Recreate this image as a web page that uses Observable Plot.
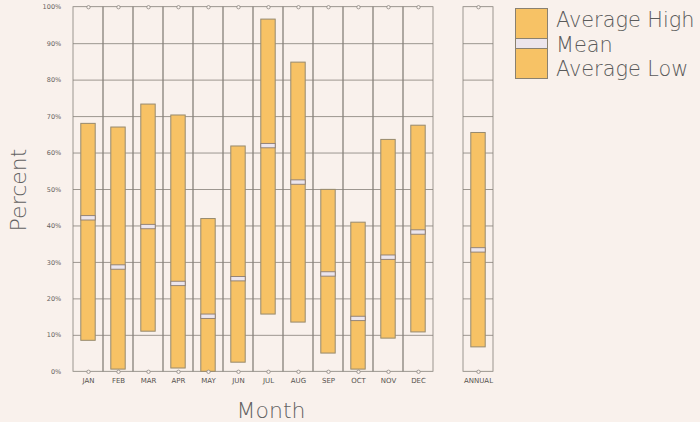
<!DOCTYPE html>
<html>
<head>
<meta charset="utf-8">
<script src="https://cdn.jsdelivr.net/npm/d3@7"></script>
<script src="https://cdn.jsdelivr.net/npm/@observablehq/plot@0.6"></script>
<style>
  html, body { margin: 0; padding: 0; background: #f9f1ec; }
  #wrap { position: relative; width: 700px; height: 422px; overflow: hidden; background: #f9f1ec; font-family: "DejaVu Sans", sans-serif; }
  #chart { position: absolute; left: 0; top: 0; }
  .lbl { position: absolute; color: #626262; font-weight: 200; font-size: 22px; white-space: nowrap; }
  #ylab { left: 18px; top: 190px; transform: translate(-50%, -50%) rotate(-90deg); }
  #xlab { left: 271px; top: 410px; transform: translate(-50%, -50%); }
  #legend { position: absolute; left: 515px; top: 8px; }
  .sw { position: absolute; left: 0; width: 33px; box-sizing: border-box; border: 1px solid #8a8170; }
  .lt { position: absolute; left: 41px; font-size: 20.8px; font-weight: 200; color: #5a5a5a; white-space: nowrap; line-height: 1; }
</style>
</head>
<body>
<div id="wrap">
  <div id="chart"></div>
  <div id="ylab" class="lbl">Percent</div>
  <div id="xlab" class="lbl">Month</div>
  <div id="legend"></div>
</div>
<script>
const months = ["JAN","FEB","MAR","APR","MAY","JUN","JUL","AUG","SEP","OCT","NOV","DEC"];
const monthHigh = [68.0, 67.0, 73.3, 70.3, 41.9, 61.8, 96.6, 84.8, 49.9, 40.9, 63.6, 67.5];
const monthLow  = [8.5, 0.6, 11.0, 0.9, 0.0, 2.5, 15.7, 13.5, 5.0, 0.6, 9.1, 10.8];
const monthMean = [42.1, 28.6, 39.7, 24.1, 15.1, 25.4, 61.9, 51.9, 26.7, 14.5, 31.3, 38.2];
const annualLabel = "ANNUAL";
const annualHigh = 65.5;
const annualLow = 6.7;
const annualMean = 33.3;
const yTicks = [0, 10, 20, 30, 40, 50, 60, 70, 80, 90, 100];
const legendLabels = ["Average High", "Mean", "Average Low"];

const gap = " ";
const domain = [...months, gap, annualLabel];
const panelCats = [...months, annualLabel];
const rows = months.map((m, i) => ({cat: m, high: monthHigh[i], low: monthLow[i], mean: monthMean[i]}))
  .concat([{cat: annualLabel, high: annualHigh, low: annualLow, mean: annualMean}]);
const gridRows = panelCats.flatMap(c => yTicks.filter(v => v > 0 && v < 100).map(v => ({cat: c, v})));
const endRows = panelCats.flatMap(c => [{cat: c, v: 0}, {cat: c, v: 100}]);

const gridColor = "#858079";
const barFill = "#f7c265";
const barStroke = "#978a6e";
const barInset = 7.8;

const chart = Plot.plot({
  width: 700,
  height: 422,
  marginLeft: 66.7,
  marginRight: 201.7,
  marginTop: 6.7,
  marginBottom: 50.7,
  style: {background: "transparent", fontFamily: "DejaVu Sans, sans-serif"},
  x: {type: "band", domain, padding: 0},
  y: {domain: [0, 100]},
  marks: [
    Plot.tickY(gridRows, {x: "cat", y: "v", stroke: gridColor, strokeWidth: 0.8}),
    Plot.barY(panelCats, {x: d => d, y1: 0, y2: 100, fill: "none", stroke: gridColor, strokeWidth: 0.8}),
    Plot.barY(rows, {x: "cat", y1: "low", y2: "high", fill: barFill, stroke: barStroke, strokeWidth: 1, insetLeft: barInset, insetRight: barInset}),
    Plot.barY(rows, {x: "cat", y1: d => d.mean - 0.6, y2: d => d.mean + 0.6, fill: "#ece5ec", stroke: "#8a7c74", strokeWidth: 0.9, insetLeft: barInset, insetRight: barInset}),
    Plot.dot(endRows, {x: "cat", y: "v", r: 1.7, fill: "#f9f1ec", stroke: "#8d8883", strokeWidth: 0.8}),
    Plot.axisY({ticks: yTicks, tickFormat: d => d + "%", tickSize: 0, tickPadding: 6, fontSize: 6.5, fill: "#66625e", label: null}),
    Plot.axisX({ticks: panelCats, tickSize: 0, tickPadding: 6, fontSize: 7, fill: "#55514d", label: null})
  ]
});
document.getElementById("chart").appendChild(chart);

// legend
const lg = document.getElementById("legend");
const parts = [
  {top: 0, h: 31, bg: barFill},
  {top: 30, h: 11, bg: "#ece5ec"},
  {top: 40, h: 31, bg: barFill}
];
parts.forEach(p => {
  const d = document.createElement("div");
  d.className = "sw";
  d.style.top = p.top + "px";
  d.style.height = p.h + "px";
  d.style.background = p.bg;
  lg.appendChild(d);
});
const textTops = [2, 27, 51];
legendLabels.forEach((t, i) => {
  const d = document.createElement("div");
  d.className = "lt";
  d.style.top = textTops[i] + "px";
  d.textContent = t;
  lg.appendChild(d);
});
</script>
</body>
</html>
